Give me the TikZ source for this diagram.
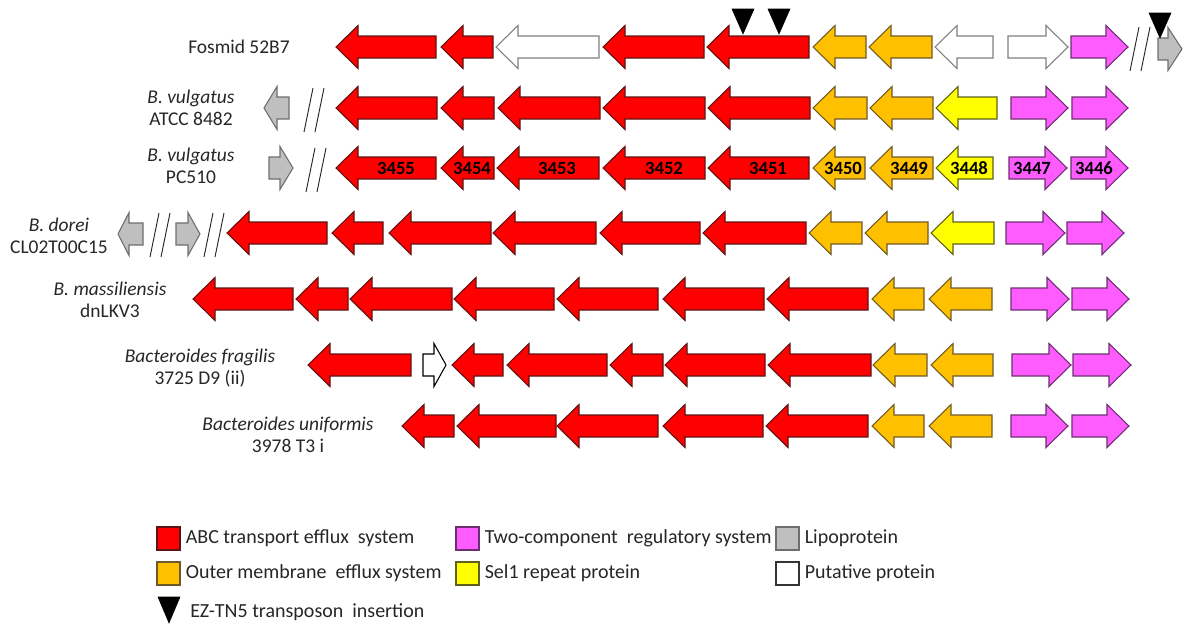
\documentclass[tikz,border=0pt]{standalone}
\usepackage{fontspec}
\setmainfont{Carlito}
\usetikzlibrary{positioning}

\definecolor{abcred}{HTML}{FF0000}
\definecolor{abcedge}{HTML}{5E1414}
\definecolor{omefill}{HTML}{FFC000}
\definecolor{omeedge}{HTML}{6E5A28}
\definecolor{selfill}{HTML}{FFFF00}
\definecolor{seledge}{HTML}{5F5F1E}
\definecolor{tcsfill}{HTML}{FF5CFF}
\definecolor{tcsedge}{HTML}{6B3070}
\definecolor{lipofill}{HTML}{BFBFBF}
\definecolor{lipoedge}{HTML}{6E6E6E}
\definecolor{putedge}{HTML}{7F7F7F}

\tikzset{
	gene/.style={line width=0.8pt},
	abc/.style={gene, fill=abcred, draw=abcedge},
	ome/.style={gene, fill=omefill, draw=omeedge},
	selone/.style={gene, fill=selfill, draw=seledge},
	tcs/.style={gene, fill=tcsfill, draw=tcsedge},
	lipo/.style={gene, fill=lipofill, draw=lipoedge},
	putative/.style={gene, fill=white, draw=putedge},
	breakline/.style={line width=0.7pt, draw=black!85},
	tnfive/.style={fill=black, draw=black},
	strain/.style={align=center, inner sep=0pt, text=black!85,
		font=\fontsize{14.6}{16.5}\selectfont},
	genetag/.style={inner sep=0pt, font=\fontsize{14}{14}\selectfont\bfseries},
	legbox/.style={line width=0.8pt, minimum size=17.25pt, inner sep=0pt},
	legtext/.style={inner sep=0pt, anchor=west, text=black!85,
		font=\fontsize{15}{15}\selectfont}
}

% gene pointing left / right: [head length]{left x}{right x}{mid y}{style}
\newcommand{\geneL}[5][22]{%
	\filldraw[#5] (#2,#4) -- (#2+#1,#4-21.5) -- (#2+#1,#4-11) -- (#3,#4-11)
	-- (#3,#4+11) -- (#2+#1,#4+11) -- (#2+#1,#4+21.5) -- cycle;}
\newcommand{\geneR}[5][22]{%
	\filldraw[#5] (#3,#4) -- (#3-#1,#4-21.5) -- (#3-#1,#4-11) -- (#2,#4-11)
	-- (#2,#4+11) -- (#3-#1,#4+11) -- (#3-#1,#4+21.5) -- cycle;}

\begin{document}
\begin{tikzpicture}[x=0.75pt,y=-0.75pt]
	\useasboundingbox (0,0) rectangle (1185,625);

	% strain names
	\node[strain] (fosmid) at (239,47) {Fosmid 52B7};
	\node[strain] (atcc) at (191,108) {\textit{B. vulgatus}\\ATCC 8482};
	\node[strain] (pcfive) at (191,166) {\textit{B. vulgatus}\\PC510};
	\node[strain] (dorei) at (59,236) {\textit{B. dorei}\\CL02T00C15};
	\node[strain] (massil) at (110,300) {\textit{B. massiliensis}\\dnLKV3};
	\node[strain] (fragil) at (200,368) {\textit{Bacteroides fragilis}\\3725 D9 (ii)};
	\node[strain] (unif) at (288,435) {\textit{Bacteroides uniformis}\\3978 T3 i};

	% Fosmid 52B7
	\foreach \a/\b/\s in {336/436/abc, 441/493/abc, 496/599/putative, 603/704/abc,
		707/809/abc, 813/866/ome, 869/932/ome, 935/993/putative}
	{\geneL{\a}{\b}{47}{\s}}
	\geneR{1008}{1068}{47}{putative}
	\geneR{1071}{1128}{47}{tcs}
	\geneR[14]{1158}{1182}{49}{lipo}

	% B. vulgatus ATCC 8482
	\geneL[13]{264}{289}{108}{lipo}
	\foreach \a/\b/\s in {336/437/abc, 441/494/abc, 498/600/abc, 603/705/abc,
		708/810/abc, 813/867/ome, 870/933/ome, 936/997/selone}
	{\geneL{\a}{\b}{108}{\s}}
	\geneR{1011}{1068}{108}{tcs}
	\geneR{1072}{1128}{108}{tcs}

	% B. vulgatus PC510
	\geneR[13]{269}{293}{168}{lipo}
	\foreach \a/\b/\s in {336/436/abc, 441/494/abc, 497/599/abc, 603/705/abc,
		708/809/abc, 813/865/ome, 870/933/ome, 936/993/selone}
	{\geneL{\a}{\b}{168}{\s}}
	\geneR{1009}{1067}{168}{tcs}
	\geneR{1071}{1128}{168}{tcs}
	\foreach \x/\t in {396/3455, 472/3454, 557/3453, 664/3452, 768/3451,
		843/3450, 909/3449, 969/3448, 1032/3447, 1094/3446}
	{\node[genetag] (g\t) at (\x,168) {\t};}

	% B. dorei CL02T00C15
	\geneL[11]{118}{143}{234}{lipo}
	\geneR[12]{176}{200}{234}{lipo}
	\foreach \a/\b/\s in {227/327/abc, 332/383/abc, 389/491/abc, 493/596/abc,
		600/700/abc, 703/806/abc, 809/862/ome, 865/928/ome, 931/994/selone}
	{\geneL{\a}{\b}{233}{\s}}
	\geneR{1006}{1065}{233}{tcs}
	\geneR{1067}{1124}{233}{tcs}

	% B. massiliensis dnLKV3
	\foreach \a/\b/\s in {193/293/abc, 296/348/abc, 350/452/abc, 454/554/abc,
		557/658/abc, 663/764/abc, 767/868/abc, 872/924/ome, 929/992/ome}
	{\geneL{\a}{\b}{299}{\s}}
	\geneR{1011}{1069}{299}{tcs}
	\geneR{1072}{1129}{299}{tcs}

	% Bacteroides fragilis 3725 D9 (ii)
	\geneL{308}{411}{365}{abc}
	\geneR[12]{423}{446}{365}{putative, draw=black}
	\foreach \a/\b/\s in {452/503/abc, 507/607/abc, 610/663/abc, 665/765/abc,
		768/871/abc, 873/927/ome, 931/993/ome}
	{\geneL{\a}{\b}{365}{\s}}
	\geneR{1012}{1071}{365}{tcs}
	\geneR{1073}{1131}{365}{tcs}

	% Bacteroides uniformis 3978 T3 i
	\foreach \a/\b/\s in {402/454/abc, 457/556/abc, 557/658/abc, 663/763/abc,
		766/868/abc, 872/924/ome, 929/992/ome}
	{\geneL{\a}{\b}{426}{\s}}
	\geneR{1011}{1068}{426}{tcs}
	\geneR{1072}{1129}{426}{tcs}

	% breaks in the sequence
	\foreach \x/\t in {1139/27, 313/88, 315/148, 159/213, 213/213}
	{
		\draw[breakline] (\x,\t) -- ++(-9,44);
		\draw[breakline] (\x+11,\t) -- ++(-9,44);
	}

	% transposon insertions
	\foreach \x/\t in {743/9, 779/9, 1160/13}
	{
		\filldraw[tnfive] (\x-11,\t) -- (\x+11,\t) -- (\x,\t+25) -- cycle;
	}

	% legend
	\node[legbox, abc] (kabc) at (168.5,538.5) {};
	\node[legtext, right=3.75pt of kabc] (tabc) {ABC transport efflux~ system};
	\node[legbox, tcs] (ktcs) at (467.5,538.5) {};
	\node[legtext, right=3.75pt of ktcs] (ttcs) {Two-component~ regulatory system};
	\node[legbox, lipo] (klipo) at (787.5,538.5) {};
	\node[legtext, right=3.75pt of klipo] (tlipo) {Lipoprotein};
	\node[legbox, ome] (kome) at (168.5,573.5) {};
	\node[legtext, right=3.75pt of kome] (tome) {Outer membrane~ efflux system};
	\node[legbox, selone] (ksel) at (467.5,573.5) {};
	\node[legtext, right=3.75pt of ksel] (tsel) {Sel1 repeat protein};
	\node[legbox, putative, draw=black!80] (kput) at (787.5,573.5) {};
	\node[legtext, right=3.75pt of kput] (tput) {Putative protein};
	\filldraw[tnfive] (158,597) -- (180,597) -- (169,623) -- cycle;
	\node[legtext] (ttn) at (190,612) {EZ-TN5 transposon~ insertion};
\end{tikzpicture}
\end{document}
